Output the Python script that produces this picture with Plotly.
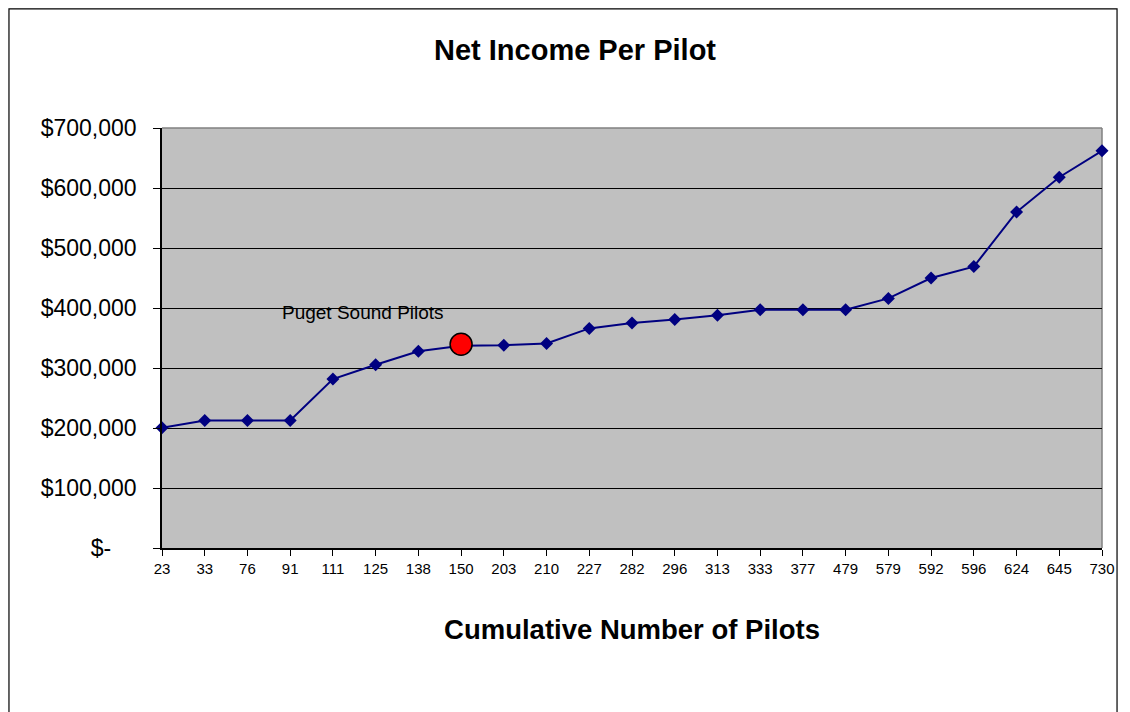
import plotly.graph_objects as go

pilots = ["23", "33", "76", "91", "111", "125", "138", "150", "203", "210", "227", "282",
          "296", "313", "333", "377", "479", "579", "592", "596", "624", "645", "730"]
net_income = [200500, 212500, 212500, 212500, 281500, 305500, 328000, 337000, 338000, 341000,
              366000, 375000, 381000, 388000, 397000, 397000, 397000, 416000, 450000, 469000,
              560000, 618000, 662000]
highlight_x = ["150"]
highlight_y = [339500]
highlight_label = "Puget Sound Pilots"
ytick_vals = [0, 100000, 200000, 300000, 400000, 500000, 600000, 700000]
ytick_text = ["$-" + "\u00a0" * 4, "$100,000", "$200,000", "$300,000", "$400,000",
              "$500,000", "$600,000", "$700,000"]

FONT = "Liberation Sans, Arial, sans-serif"

fig = go.Figure()
fig.add_trace(go.Scatter(
    x=pilots, y=net_income, mode="lines+markers",
    line=dict(color="#000080", width=2),
    marker=dict(symbol="diamond", size=10, color="#000080"),
    cliponaxis=False, showlegend=False,
))
fig.add_trace(go.Scatter(
    x=highlight_x, y=highlight_y, mode="markers",
    marker=dict(symbol="circle", size=22, color="#FF0000", line=dict(color="#000000", width=1.5)),
    cliponaxis=False, showlegend=False,
))

fig.add_annotation(x=4.7, y=392000, xref="x", yref="y", text=highlight_label,
                   showarrow=False, font=dict(family=FONT, size=19, color="#000000"))

# outer chart border (left, top, right)
fig.add_shape(type="path", xref="paper", yref="paper",
              path="M -0.1628,-0.5 L -0.1628,1.2838 L 1.016,1.2838 L 1.016,-0.5",
              line=dict(color="#000000", width=1.2), layer="above")

fig.update_layout(
    width=1130, height=712,
    margin=dict(l=154, r=36, t=120, b=172),
    paper_bgcolor="#FFFFFF", plot_bgcolor="#C0C0C0",
    font=dict(family=FONT, color="#000000"),
    title=dict(text="<b>Net Income Per Pilot</b>", x=567 / 1130, xanchor="center",
               y=1 - 42 / 712, yanchor="middle", yref="container",
               font=dict(family=FONT, size=29, color="#000000")),
)
fig.update_xaxes(
    type="category", categoryorder="array", categoryarray=pilots,
    range=[0, len(pilots) - 1],
    showgrid=False, zeroline=False,
    showline=True, linecolor="#000000", linewidth=1.5, mirror=False,
    ticks="outside", ticklen=6, tickcolor="#000000", tickwidth=1,
    tickfont=dict(family=FONT, size=15, color="#000000"),
    title=dict(text="<b>Cumulative Number of Pilots</b>", standoff=44,
               font=dict(family=FONT, size=27.5, color="#000000")),
)
fig.update_yaxes(
    range=[0, 700000], tickvals=ytick_vals, ticktext=ytick_text,
    showgrid=True, gridcolor="#000000", gridwidth=1,
    zeroline=False,
    showline=True, linecolor="#000000", linewidth=1.5,
    ticks="outside", ticklen=7, tickcolor="#000000",
    ticklabelstandoff=12,
    tickfont=dict(family=FONT, size=23, color="#000000"),
)
# grey right/top frame of plot area
fig.add_shape(type="line", xref="paper", yref="paper", x0=1, x1=1, y0=0, y1=1,
              line=dict(color="#808080", width=1.5), layer="below")
fig.add_shape(type="line", xref="paper", yref="paper", x0=0, x1=1, y0=1, y1=1,
              line=dict(color="#808080", width=1.5), layer="below")

fig.write_html("out.html")
